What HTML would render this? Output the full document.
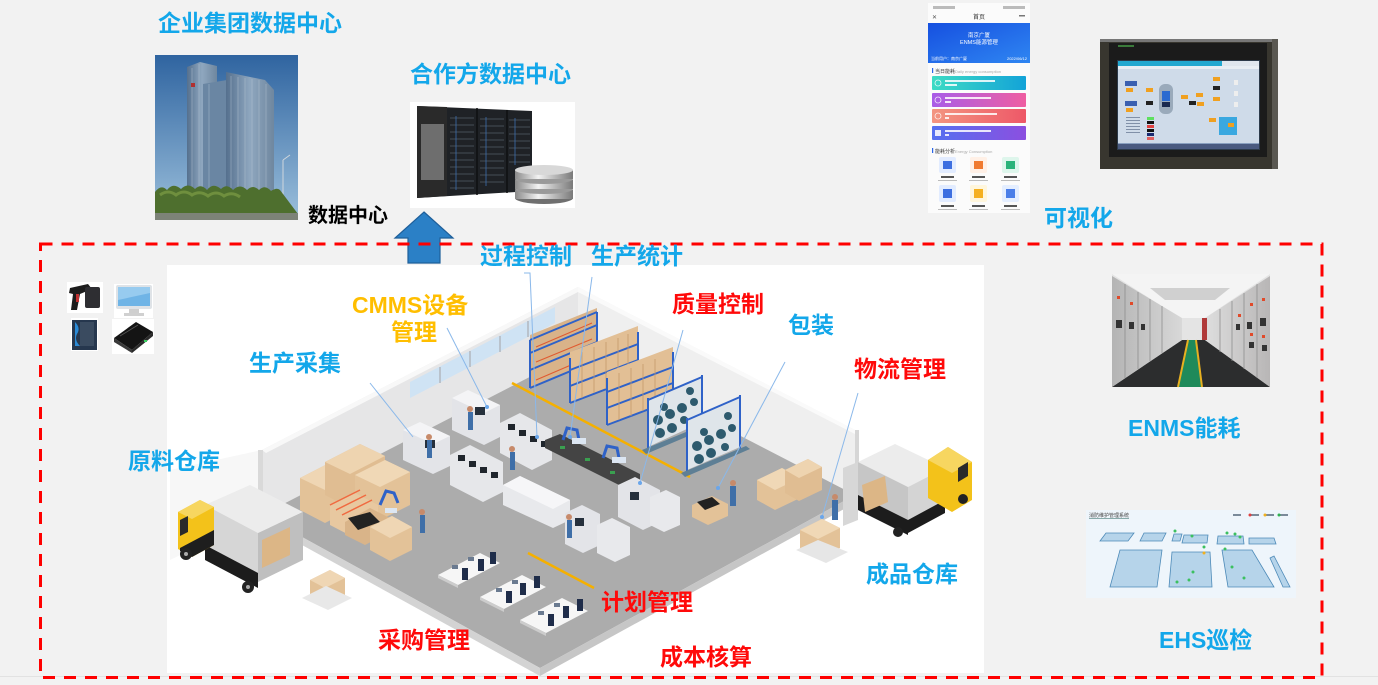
<!DOCTYPE html>
<html><head><meta charset="utf-8">
<style>
html,body{margin:0;padding:0;background:#f2f2f2;}
svg{display:block;}
.t{font-family:"Liberation Sans","Noto Sans CJK SC",sans-serif;font-weight:700;font-size:23px;}
.b{fill:#13a7ea;}
.r{fill:#ff0a0a;}
.o{fill:#ffbe00;}
.s{font-family:"Liberation Sans","Noto Sans CJK SC",sans-serif;}
</style></head>
<body>
<svg width="1378" height="685" viewBox="0 0 1378 685" xmlns="http://www.w3.org/2000/svg">
<defs>
<linearGradient id="sky" x1="0" y1="0" x2="0" y2="1"><stop offset="0" stop-color="#2f64a0"/><stop offset="1" stop-color="#9cc0dc"/></linearGradient>
<linearGradient id="tw" x1="0" y1="0" x2="1" y2="0"><stop offset="0" stop-color="#55708e"/><stop offset="0.5" stop-color="#8fa7bf"/><stop offset="1" stop-color="#6f879f"/></linearGradient>
<linearGradient id="ph" x1="0" y1="0" x2="1" y2="1"><stop offset="0" stop-color="#1650e0"/><stop offset="1" stop-color="#2f86f2"/></linearGradient>
<linearGradient id="c1" x1="0" y1="0" x2="1" y2="0"><stop offset="0" stop-color="#3ddbc4"/><stop offset="1" stop-color="#13a3d8"/></linearGradient>
<linearGradient id="c2" x1="0" y1="0" x2="1" y2="0"><stop offset="0" stop-color="#a85ce8"/><stop offset="1" stop-color="#ef5fa2"/></linearGradient>
<linearGradient id="c3" x1="0" y1="0" x2="1" y2="0"><stop offset="0" stop-color="#f39580"/><stop offset="1" stop-color="#ee5868"/></linearGradient>
<linearGradient id="c4" x1="0" y1="0" x2="1" y2="0"><stop offset="0" stop-color="#5470f0"/><stop offset="1" stop-color="#8c4fe0"/></linearGradient>
<linearGradient id="disc" x1="0" y1="0" x2="1" y2="0"><stop offset="0" stop-color="#8a8a8a"/><stop offset="0.4" stop-color="#f2f2f2"/><stop offset="1" stop-color="#7a7a7a"/></linearGradient>
<linearGradient id="sgL" x1="0" y1="0" x2="1" y2="0"><stop offset="0" stop-color="#b4b4b4"/><stop offset="1" stop-color="#d8d8d8"/></linearGradient>
<linearGradient id="sgR" x1="1" y1="0" x2="0" y2="0"><stop offset="0" stop-color="#b8b6b6"/><stop offset="1" stop-color="#dedede"/></linearGradient>
</defs>

<rect x="0" y="0" width="1378" height="685" fill="#f2f2f2"/>
<rect x="0" y="676" width="1378" height="1" fill="#e2e2e2"/>

<!-- ===== Building photo ===== -->
<rect x="155" y="55" width="143" height="165" fill="url(#sky)"/>
<polygon points="187,67 200,62 217,66 217,205 187,205" fill="url(#tw)"/>
<polygon points="203,84 227,80 227,205 203,205" fill="#6a86a3"/>
<polygon points="226,72 265,80 274,90 274,205 226,205" fill="url(#tw)"/>
<g stroke="#b9c8d6" stroke-width="0.6" opacity="0.7">
<line x1="231" y1="76" x2="231" y2="205"/><line x1="238" y1="77" x2="238" y2="205"/><line x1="245" y1="78" x2="245" y2="205"/><line x1="252" y1="79" x2="252" y2="205"/><line x1="259" y1="80" x2="259" y2="205"/><line x1="266" y1="84" x2="266" y2="205"/>
<line x1="192" y1="68" x2="192" y2="205"/><line x1="199" y1="64" x2="199" y2="205"/><line x1="209" y1="84" x2="209" y2="205"/>
</g>
<rect x="191" y="83" width="4" height="4" fill="#b03030"/>
<line x1="283" y1="160" x2="283" y2="216" stroke="#cfd6dc" stroke-width="1"/>
<line x1="283" y1="160" x2="290" y2="155" stroke="#cfd6dc" stroke-width="1"/>
<path d="M155,192 q6,-8 12,-2 q6,-8 14,-1 q7,-7 14,0 q6,-6 12,1 q6,-8 14,-1 q6,-6 12,1 q7,-7 14,0 q6,-6 12,0 q6,-6 12,1 q6,-4 9,-1 L298,214 L155,214 Z" fill="#4e6f2e"/>
<path d="M160,195 q8,-6 16,0 q8,-6 16,0 q8,-5 16,1 q8,-6 16,0 q8,-5 16,1" fill="none" stroke="#6f8f3e" stroke-width="3"/>
<rect x="155" y="213" width="143" height="7" fill="#7d8378"/>

<!-- ===== Server photo ===== -->
<rect x="410" y="102" width="165" height="106" fill="#ffffff"/>
<polygon points="417,106 532,111 532,191 417,198" fill="#1f2226"/>
<polygon points="417,106 447,107 447,196 417,198" fill="#2a2a2a"/>
<rect x="421" y="124" width="23" height="56" fill="#6e6e6e"/>
<g stroke="#555c66" stroke-width="0.8">
<line x1="450" y1="118" x2="474" y2="118"/><line x1="450" y1="125" x2="474" y2="125"/><line x1="450" y1="132" x2="474" y2="132"/><line x1="450" y1="139" x2="474" y2="139"/><line x1="450" y1="146" x2="474" y2="146"/><line x1="450" y1="153" x2="474" y2="153"/><line x1="450" y1="160" x2="474" y2="160"/><line x1="450" y1="167" x2="474" y2="167"/><line x1="450" y1="174" x2="474" y2="174"/><line x1="450" y1="181" x2="474" y2="181"/><line x1="450" y1="188" x2="474" y2="188"/>
<line x1="480" y1="119" x2="504" y2="119"/><line x1="480" y1="126" x2="504" y2="126"/><line x1="480" y1="133" x2="504" y2="133"/><line x1="480" y1="140" x2="504" y2="140"/><line x1="480" y1="147" x2="504" y2="147"/><line x1="480" y1="154" x2="504" y2="154"/><line x1="480" y1="161" x2="504" y2="161"/><line x1="480" y1="168" x2="504" y2="168"/><line x1="480" y1="175" x2="504" y2="175"/><line x1="480" y1="182" x2="504" y2="182"/>
<line x1="509" y1="120" x2="530" y2="120"/><line x1="509" y1="127" x2="530" y2="127"/><line x1="509" y1="134" x2="530" y2="134"/><line x1="509" y1="141" x2="530" y2="141"/><line x1="509" y1="148" x2="530" y2="148"/><line x1="509" y1="155" x2="530" y2="155"/><line x1="509" y1="162" x2="530" y2="162"/>
</g>
<g stroke="#3a6fb0" stroke-width="0.8"><line x1="456" y1="116" x2="456" y2="190"/><line x1="486" y1="117" x2="486" y2="186"/><line x1="515" y1="118" x2="515" y2="165"/></g>
<line x1="477" y1="108" x2="477" y2="195" stroke="#0e0f11" stroke-width="1.5"/>
<line x1="507" y1="110" x2="507" y2="193" stroke="#0e0f11" stroke-width="1.5"/>
<ellipse cx="544" cy="198" rx="29" ry="6" fill="#6f6f6f"/>
<rect x="515" y="190" width="58" height="9" fill="url(#disc)"/>
<ellipse cx="544" cy="189" rx="29" ry="5" fill="#9a9a9a"/>
<rect x="515" y="180" width="58" height="9" fill="url(#disc)"/>
<ellipse cx="544" cy="179" rx="29" ry="5" fill="#9a9a9a"/>
<rect x="515" y="170" width="58" height="9" fill="url(#disc)"/>
<ellipse cx="544" cy="170" rx="29" ry="5" fill="#d8d8d8"/>

<!-- arrow -->
<polygon points="424,212 453,238 440,238 440,263 408,263 408,238 395,238" fill="#2b80c6" stroke="#1e5f9a" stroke-width="1.2"/>

<!-- ===== Phone screenshot ===== -->
<rect x="928" y="3" width="102" height="210" fill="#fbfbfb"/>
<rect x="933" y="6" width="22" height="3" fill="#bbb"/><rect x="1003" y="6" width="22" height="3" fill="#bbb"/>
<text x="979" y="19" class="s" font-size="6" fill="#333" text-anchor="middle">首页</text>
<text x="932" y="19" class="s" font-size="6" fill="#555">✕</text>
<rect x="1019" y="15" width="6" height="1.5" fill="#777"/>
<rect x="928" y="23" width="102" height="40" fill="url(#ph)"/>
<text x="979" y="37" class="s" font-size="5.5" fill="#fff" text-anchor="middle">南京广厦</text>
<text x="979" y="44" class="s" font-size="5.5" fill="#fff" text-anchor="middle">ENMS能源管理</text>
<text x="931" y="60" class="s" font-size="4" fill="#fff">当前用户：南京广厦</text>
<text x="1027" y="60" class="s" font-size="4" fill="#fff" text-anchor="end">2022/06/12</text>
<rect x="932" y="68" width="1.2" height="5" fill="#2b66e8"/>
<text x="935" y="73" class="s" font-size="5" fill="#333">当日能耗</text>
<text x="955" y="73" class="s" font-size="4" fill="#aaa">Daily energy consumption</text>
<rect x="932" y="76" width="94" height="14" rx="1" fill="url(#c1)"/>
<rect x="932" y="93" width="94" height="14" rx="1" fill="url(#c2)"/>
<rect x="932" y="109" width="94" height="14" rx="1" fill="url(#c3)"/>
<rect x="932" y="126" width="94" height="14" rx="1" fill="url(#c4)"/>
<g fill="#fff" opacity="0.85">
<circle cx="938" cy="83" r="3" fill="none" stroke="#fff" stroke-width="0.8"/><rect x="945" y="80" width="50" height="2"/><rect x="945" y="84" width="12" height="2"/>
<circle cx="938" cy="100" r="3" fill="none" stroke="#fff" stroke-width="0.8"/><rect x="945" y="97" width="46" height="2"/><rect x="945" y="101" width="6" height="2"/>
<circle cx="938" cy="116" r="3" fill="none" stroke="#fff" stroke-width="0.8"/><rect x="945" y="113" width="52" height="2"/><rect x="945" y="117" width="4" height="2"/>
<rect x="935" y="130" width="6" height="6"/><rect x="945" y="130" width="46" height="2"/><rect x="945" y="134" width="4" height="2"/>
</g>
<rect x="932" y="148" width="1.2" height="5" fill="#2b66e8"/>
<text x="935" y="153" class="s" font-size="5" fill="#333">能耗分析</text>
<text x="955" y="153" class="s" font-size="4" fill="#aaa">Energy Consumption</text>
<rect x="939" y="157" width="17" height="16" rx="2" fill="#e2ecff"/><rect x="943" y="161" width="9" height="8" fill="#3d6fe0"/>
<rect x="970" y="157" width="17" height="16" rx="2" fill="#fff0e6"/><rect x="974" y="161" width="9" height="8" fill="#f07a30"/>
<rect x="1002" y="157" width="17" height="16" rx="2" fill="#def6ec"/><rect x="1006" y="161" width="9" height="8" fill="#2ab37a"/>
<g fill="#555"><rect x="941" y="176" width="13" height="2"/><rect x="972" y="176" width="13" height="2"/><rect x="1004" y="176" width="13" height="2"/></g>
<g fill="#bbb"><rect x="938" y="180" width="19" height="1"/><rect x="969" y="180" width="19" height="1"/><rect x="1001" y="180" width="19" height="1"/></g>
<rect x="939" y="185" width="17" height="17" rx="2" fill="#e2ecff"/><rect x="943" y="189" width="9" height="9" fill="#3d6fe0"/>
<rect x="970" y="185" width="17" height="17" rx="2" fill="#fff6dc"/><rect x="974" y="189" width="9" height="9" fill="#f5b020"/>
<rect x="1002" y="185" width="17" height="17" rx="2" fill="#e4eeff"/><rect x="1006" y="189" width="9" height="9" fill="#4a7ee8"/>
<g fill="#555"><rect x="941" y="205" width="13" height="2"/><rect x="972" y="205" width="13" height="2"/><rect x="1004" y="205" width="13" height="2"/></g>
<g fill="#bbb"><rect x="938" y="209" width="19" height="1"/><rect x="969" y="209" width="19" height="1"/><rect x="1001" y="209" width="19" height="1"/></g>

<!-- ===== HMI monitor photo ===== -->
<rect x="1100" y="39" width="178" height="130" fill="#38362f"/>
<rect x="1100" y="39" width="178" height="3" fill="#777"/>
<rect x="1272" y="39" width="6" height="130" fill="#5a5852"/>
<rect x="1109" y="43" width="158" height="114" fill="#1b1b1b"/>
<rect x="1117" y="60" width="143" height="90" fill="#2c3a4a"/>
<rect x="1118" y="61" width="141" height="88" fill="#cfdbe9"/>
<rect x="1118" y="61" width="104" height="5" fill="#22a8d0"/>
<rect x="1222" y="61" width="37" height="5" fill="#dfe6ee"/>
<rect x="1118" y="66" width="141" height="3" fill="#e8eef4"/>
<rect x="1118" y="143" width="141" height="6" fill="#4a5a80"/>
<rect x="1118" y="143" width="141" height="1" fill="#8aa0c0"/>
<g>
<rect x="1125" y="81" width="12" height="5" fill="#3a5fb0"/><rect x="1126" y="88" width="7" height="4" fill="#f0a020"/>
<rect x="1125" y="101" width="12" height="5" fill="#3a5fb0"/><rect x="1126" y="108" width="7" height="4" fill="#f0a020"/>
<rect x="1146" y="88" width="7" height="4" fill="#f0a020"/><rect x="1146" y="101" width="7" height="4" fill="#222"/>
<rect x="1159" y="84" width="14" height="30" rx="6" fill="#9aaabb"/><rect x="1162" y="91" width="8" height="10" fill="#2a6ad0"/><rect x="1162" y="102" width="8" height="5" fill="#1a2a50"/>
<rect x="1181" y="95" width="7" height="4" fill="#f0a020"/><rect x="1189" y="101" width="7" height="4" fill="#222"/><rect x="1196" y="93" width="7" height="4" fill="#f0a020"/><rect x="1197" y="102" width="7" height="4" fill="#f0a020"/>
<rect x="1213" y="77" width="7" height="4" fill="#f0a020"/><rect x="1213" y="86" width="7" height="4" fill="#222"/><rect x="1213" y="97" width="7" height="4" fill="#f0a020"/>
<rect x="1234" y="80" width="4" height="5" fill="#eee"/><rect x="1234" y="91" width="4" height="5" fill="#eee"/><rect x="1234" y="102" width="4" height="5" fill="#eee"/>
<rect x="1147" y="117" width="7" height="3" fill="#5ee060"/><rect x="1147" y="121" width="7" height="3" fill="#111"/><rect x="1147" y="125" width="7" height="3" fill="#e04040"/><rect x="1147" y="129" width="7" height="3" fill="#111"/><rect x="1147" y="133" width="7" height="3" fill="#1a2a70"/><rect x="1147" y="137" width="7" height="3" fill="#e06060"/>
<rect x="1219" y="117" width="18" height="18" fill="#3aa8e0"/><rect x="1228" y="123" width="6" height="4" fill="#f0a020"/>
<rect x="1209" y="118" width="7" height="4" fill="#f0a020"/>
<g fill="#8090a8"><rect x="1126" y="117" width="14" height="1"/><rect x="1126" y="120" width="14" height="1"/><rect x="1126" y="123" width="14" height="1"/><rect x="1126" y="126" width="14" height="1"/><rect x="1126" y="129" width="14" height="1"/><rect x="1126" y="132" width="14" height="1"/></g>
</g>
<rect x="1118" y="45" width="16" height="2" fill="#3a7a3a"/>

<!-- ===== Red dashed frame ===== -->
<rect x="40.5" y="244" width="1281.5" height="433.5" fill="none" stroke="#ff0000" stroke-width="3" stroke-dasharray="12 9"/>

<!-- ===== Small device icons ===== -->
<rect x="67" y="282" width="36" height="31" fill="#fff"/>
<polygon points="70,288 88,284 92,289 80,294 77,310 71,310 73,294 69,293" fill="#1d1d1d"/>
<rect x="85" y="287" width="15" height="21" rx="2" fill="#2e2e32"/>
<rect x="76" y="294" width="3" height="8" fill="#c03030"/>
<rect x="114" y="284" width="39" height="34" fill="#fff"/>
<rect x="116" y="285" width="36" height="24" rx="2" fill="#dfe3e7"/>
<rect x="118" y="287" width="32" height="19" fill="#6fb4e6"/>
<polygon points="118,287 150,287 150,293 118,300" fill="#a8d4f2" opacity="0.7"/>
<rect x="129" y="309" width="10" height="4" fill="#cfcfcf"/><rect x="124" y="313" width="20" height="3" fill="#d0d0d0"/>
<rect x="71" y="318" width="27" height="33" fill="#fff"/>
<rect x="72" y="320" width="25" height="30" fill="#26374e"/>
<path d="M75,322 q6,6 2,12 q-3,6 3,12 l-5,0 Z" fill="#2a8ad6"/>
<rect x="80" y="322" width="14" height="24" fill="#3a4b60"/>
<rect x="112" y="319" width="42" height="35" fill="#fff"/>
<polygon points="114,338 136,322 153,332 132,350" fill="#141414"/>
<polygon points="114,338 132,350 132,353 114,342" fill="#3a3a3a"/>
<polygon points="132,350 153,332 153,336 132,353" fill="#2a2a2a"/>
<line x1="120" y1="336" x2="138" y2="325" stroke="#555" stroke-width="0.8"/>
<rect x="144" y="340" width="3" height="2" fill="#3ad060"/>

<!-- ===== Factory illustration ===== -->
<rect x="167" y="265" width="817" height="408" fill="#ffffff"/>
<!-- outer ground hints -->
<polygon points="170,470 262,450 262,515 170,560" fill="#f7f7f7"/>
<!-- walls -->
<polygon points="262,450 578,287 578,352 262,515" fill="#e6e6e7"/>
<polygon points="262,450 578,287 578,292 266,453" fill="#f8f8f8"/>
<polygon points="578,287 855,430 855,495 578,352" fill="#efefef"/>
<polygon points="578,287 855,430 855,434 578,292" fill="#fafafa"/>
<rect x="855" y="430" width="4" height="67" fill="#d6d6d6"/>
<rect x="258" y="450" width="5" height="66" fill="#d9d9d9"/>
<!-- windows -->
<polygon points="410,382 555,307 555,323 410,398" fill="#cfe3f4"/>
<g stroke="#b9c2cc" stroke-width="2"><line x1="440" y1="367" x2="440" y2="383"/><line x1="470" y1="351" x2="470" y2="367"/><line x1="500" y1="336" x2="500" y2="352"/><line x1="528" y1="321" x2="528" y2="337"/></g>
<!-- floor -->
<polygon points="262,515 578,352 855,495 540,668" fill="#acacac"/>
<polygon points="262,515 540,668 540,676 262,523" fill="#d3d3d3"/>
<polygon points="540,668 855,495 855,503 540,676" fill="#c6c6c6"/>
<!-- yellow lines -->
<line x1="512" y1="383" x2="690" y2="477" stroke="#f5b000" stroke-width="2.5"/>
<line x1="528" y1="553" x2="594" y2="588" stroke="#f5b000" stroke-width="2.5"/>

<!-- racks with boxes -->
<g>
<polygon points="530,335 597,308 597,360 530,388" fill="#d9b389"/>
<g stroke="#2f62c8" stroke-width="2" fill="none">
<line x1="530" y1="340" x2="530" y2="388"/><line x1="597" y1="312" x2="597" y2="360"/>
<line x1="530" y1="388" x2="597" y2="360"/><line x1="530" y1="370" x2="597" y2="342"/><line x1="530" y1="353" x2="597" y2="325"/><line x1="530" y1="340" x2="597" y2="312"/>
</g>
<g stroke="#e05a30" stroke-width="1"><line x1="536" y1="362" x2="592" y2="339"/><line x1="536" y1="347" x2="592" y2="323"/><line x1="536" y1="380" x2="592" y2="356"/></g>
</g>
<g>
<polygon points="570,352 638,326 638,377 570,403" fill="#e2bf95"/>
<g stroke="#2f62c8" stroke-width="2" fill="none">
<line x1="570" y1="358" x2="570" y2="403"/><line x1="638" y1="332" x2="638" y2="377"/>
<line x1="570" y1="403" x2="638" y2="377"/><line x1="570" y1="386" x2="638" y2="360"/><line x1="570" y1="370" x2="638" y2="344"/>
</g>
<g stroke="#c49a6c" stroke-width="0.8"><line x1="582" y1="352" x2="582" y2="398"/><line x1="594" y1="347" x2="594" y2="393"/><line x1="606" y1="342" x2="606" y2="389"/><line x1="618" y1="338" x2="618" y2="384"/><line x1="628" y1="334" x2="628" y2="380"/></g>
</g>
<g>
<polygon points="607,372 673,347 673,400 607,425" fill="#e2bf95"/>
<g stroke="#2f62c8" stroke-width="2" fill="none">
<line x1="607" y1="378" x2="607" y2="425"/><line x1="673" y1="352" x2="673" y2="400"/>
<line x1="607" y1="425" x2="673" y2="400"/><line x1="607" y1="408" x2="673" y2="383"/><line x1="607" y1="392" x2="673" y2="367"/>
</g>
<g stroke="#c49a6c" stroke-width="0.8"><line x1="619" y1="373" x2="619" y2="420"/><line x1="631" y1="368" x2="631" y2="416"/><line x1="643" y1="364" x2="643" y2="411"/><line x1="655" y1="359" x2="655" y2="407"/></g>
</g>
<!-- reel racks -->
<g>
<polygon points="648,400 702,377 702,422 648,447" fill="#dfe5ea"/>
<g fill="#2d5a6e"><circle cx="658" cy="420" r="5"/><circle cx="670" cy="414" r="5"/><circle cx="682" cy="408" r="5"/><circle cx="694" cy="402" r="4"/><circle cx="660" cy="433" r="5"/><circle cx="672" cy="428" r="5"/><circle cx="684" cy="420" r="4"/><circle cx="664" cy="407" r="4"/><circle cx="690" cy="391" r="4"/></g>
<g stroke="#2f62c8" stroke-width="2"><line x1="648" y1="398" x2="648" y2="450"/><line x1="702" y1="375" x2="702" y2="424"/><line x1="648" y1="400" x2="702" y2="377"/></g>
<polygon points="642,450 708,423 712,426 646,454" fill="#5e7f95"/>
</g>
<g>
<polygon points="687,420 740,397 740,447 687,470" fill="#dfe5ea"/>
<g fill="#2d5a6e"><circle cx="697" cy="446" r="5"/><circle cx="709" cy="440" r="5"/><circle cx="721" cy="434" r="5"/><circle cx="732" cy="428" r="4"/><circle cx="699" cy="459" r="5"/><circle cx="711" cy="453" r="5"/><circle cx="725" cy="447" r="4"/><circle cx="704" cy="432" r="4"/><circle cx="728" cy="416" r="4"/></g>
<g stroke="#2f62c8" stroke-width="2"><line x1="687" y1="418" x2="687" y2="472"/><line x1="740" y1="395" x2="740" y2="449"/><line x1="687" y1="420" x2="740" y2="397"/></g>
<polygon points="681,473 746,446 750,449 685,477" fill="#5e7f95"/>
</g>

<!-- machines -->
<g>
<polygon points="403,430 420,422 450,436 450,466 433,474 403,460" fill="#e3e4e8"/>
<polygon points="403,430 420,422 450,436 433,444" fill="#f4f4f6"/>
<rect x="425" y="440" width="10" height="8" fill="#26303c"/>
<polygon points="452,398 468,390 500,405 500,437 484,445 452,430" fill="#e3e4e8"/>
<polygon points="452,398 468,390 500,405 484,413" fill="#f4f4f6"/>
<rect x="475" y="407" width="10" height="8" fill="#26303c"/>
<polygon points="450,455 470,445 503,462 503,492 483,502 450,485" fill="#e6e7ea"/>
<g fill="#1f252c"><rect x="458" y="455" width="7" height="6"/><rect x="469" y="461" width="7" height="6"/><rect x="480" y="467" width="7" height="6"/><rect x="491" y="472" width="7" height="6"/></g>
<polygon points="500,423 520,413 552,430 552,460 532,470 500,453" fill="#e6e7ea"/>
<g fill="#1f252c"><rect x="508" y="424" width="7" height="6"/><rect x="519" y="430" width="7" height="6"/><rect x="530" y="436" width="7" height="6"/><rect x="541" y="441" width="7" height="6"/></g>
<polygon points="503,485 520,476 570,500 570,520 553,528 503,505" fill="#e8e9ec"/>
<polygon points="503,485 520,476 570,500 553,509" fill="#f6f6f8"/>
<polygon points="545,440 560,434 640,474 640,482 625,488 545,448" fill="#444"/>
<g fill="#3aa050"><rect x="560" y="446" width="5" height="3"/><rect x="585" y="458" width="5" height="3"/><rect x="610" y="471" width="5" height="3"/></g>
<g stroke="#2f62c8" stroke-width="3" fill="none"><path d="M563,440 l4,-12 l10,2 l2,10"/><path d="M603,458 l4,-12 l10,2 l2,10"/></g>
<rect x="572" y="438" width="14" height="6" fill="#dce6f2"/><rect x="612" y="457" width="14" height="6" fill="#dce6f2"/>
<polygon points="618,485 635,477 660,490 660,522 643,530 618,517" fill="#e3e4e8"/>
<rect x="630" y="492" width="9" height="8" fill="#26303c"/>
<polygon points="650,497 666,490 680,497 680,525 664,532 650,525" fill="#e8e9ec"/>
<polygon points="565,513 582,505 600,514 600,545 583,553 565,544" fill="#e3e4e8"/>
<rect x="575" y="518" width="9" height="8" fill="#26303c"/>
<polygon points="597,525 612,518 630,527 630,555 615,562 597,553" fill="#e8e9ec"/>
</g>

<!-- boxes left -->
<g>
<polygon points="300,478 335,460 360,472 360,505 325,523 300,510" fill="#e3c298"/>
<polygon points="300,478 335,460 360,472 325,490" fill="#efd6b4"/>
<polygon points="325,462 360,444 385,456 385,490 350,508 325,495" fill="#e0bd92"/>
<polygon points="325,462 360,444 385,456 350,474" fill="#eed4b0"/>
<polygon points="355,475 385,460 410,472 410,505 380,520 355,508" fill="#e3c298"/>
<polygon points="355,475 385,460 410,472 380,487" fill="#f0d8b6"/>
<polygon points="330,505 355,493 378,505 378,525 353,537 330,525" fill="#e8c8a0"/>
<g stroke="#f06a40" stroke-width="1.5"><line x1="330" y1="505" x2="360" y2="490"/><line x1="336" y1="510" x2="366" y2="495"/><line x1="342" y1="515" x2="372" y2="500"/></g>
<polygon points="345,522 370,508 390,518 390,532 365,545 345,535" fill="#d9b489"/>
<polygon points="348,518 370,512 380,522 358,530" fill="#222"/>
<polygon points="370,527 392,516 412,527 412,550 390,561 370,550" fill="#e3c298"/>
<polygon points="370,527 392,516 412,527 390,538" fill="#efd6b4"/>
<path d="M380,505 l6,-14 l8,2 l4,10" stroke="#2f62c8" stroke-width="3" fill="none"/>
<rect x="385" y="508" width="12" height="5" fill="#dce6f2"/>
</g>
<!-- workers -->
<g fill="#3f6fa8">
<rect x="420" y="515" width="5" height="18"/><circle cx="422" cy="512" r="3" fill="#c78a6a"/>
<rect x="427" y="440" width="5" height="18"/><circle cx="429" cy="437" r="3" fill="#c78a6a"/>
<rect x="468" y="412" width="5" height="18"/><circle cx="470" cy="409" r="3" fill="#c78a6a"/>
<rect x="510" y="452" width="5" height="18"/><circle cx="512" cy="449" r="3" fill="#c78a6a"/>
<rect x="567" y="520" width="5" height="18"/><circle cx="569" cy="517" r="3" fill="#c78a6a"/>
<rect x="730" y="486" width="6" height="20"/><circle cx="733" cy="483" r="3" fill="#c78a6a"/>
<rect x="832" y="500" width="6" height="20"/><circle cx="835" cy="497" r="3" fill="#c78a6a"/>
</g>
<!-- desks -->
<g>
<polygon points="438,575 480,553 500,563 458,585" fill="#f6f6f6"/>
<polygon points="438,575 458,585 458,588 438,578" fill="#ccc"/>
<polygon points="480,597 522,575 546,587 504,609" fill="#f6f6f6"/>
<polygon points="480,597 504,609 504,612 480,600" fill="#ccc"/>
<polygon points="520,620 562,598 588,611 546,633" fill="#f6f6f6"/>
<polygon points="520,620 546,633 546,636 520,623" fill="#ccc"/>
<g fill="#1f2d4a">
<rect x="462" y="568" width="6" height="12"/><rect x="478" y="559" width="6" height="12"/><rect x="490" y="552" width="6" height="12"/>
<rect x="506" y="591" width="6" height="12"/><rect x="520" y="583" width="6" height="12"/><rect x="534" y="576" width="6" height="12"/>
<rect x="548" y="614" width="6" height="12"/><rect x="563" y="606" width="6" height="12"/><rect x="577" y="599" width="6" height="12"/>
</g>
<g fill="#6a7a90"><rect x="452" y="565" width="6" height="4"/><rect x="468" y="557" width="6" height="4"/><rect x="496" y="588" width="6" height="4"/><rect x="512" y="580" width="6" height="4"/><rect x="538" y="611" width="6" height="4"/><rect x="554" y="603" width="6" height="4"/></g>
</g>
<!-- right boxes -->
<g>
<polygon points="757,480 782,468 800,478 800,498 775,510 757,500" fill="#e3c298"/>
<polygon points="757,480 782,468 800,478 775,490" fill="#f0d8b6"/>
<polygon points="785,470 808,459 822,467 822,490 799,501 785,493" fill="#e0bd92"/>
<polygon points="785,470 808,459 822,467 799,478" fill="#eed4b0"/>
<polygon points="692,505 712,496 728,504 728,516 708,525 692,517" fill="#e3c298"/>
<polygon points="697,502 712,497 720,504 705,510" fill="#222"/>
<polygon points="800,530 822,519 840,528 840,548 818,559 800,550" fill="#e3c298"/>
<polygon points="800,530 822,519 840,528 818,539" fill="#f0d8b6"/>
<polygon points="796,550 818,540 848,552 826,563" fill="#e6e6e6"/>
</g>
<!-- left truck -->
<g>
<polygon points="205,505 250,485 303,512 258,533" fill="#ececec"/>
<polygon points="205,505 258,533 258,585 205,555" fill="#d6d6d6"/>
<polygon points="205,545 258,573 258,588 205,560" fill="#1c1c1c"/>
<polygon points="258,533 303,512 303,560 258,582" fill="#bfbfbf"/>
<polygon points="262,540 290,527 290,555 262,568" fill="#dcb686"/>
<polygon points="178,512 200,500 214,507 214,545 192,557 178,549" fill="#f3c21a"/>
<polygon points="178,512 200,500 214,507 192,519" fill="#f7d660"/>
<polygon points="180,520 188,516 188,532 180,536" fill="#2a2a2a"/>
<polygon points="180,548 214,530 214,545 192,557 180,551" fill="#1e1e1e"/>
<ellipse cx="186" cy="554" rx="6" ry="6" fill="#222"/><circle cx="186" cy="554" r="2" fill="#aaa"/>
<ellipse cx="248" cy="587" rx="6" ry="6" fill="#222"/><circle cx="248" cy="587" r="2" fill="#aaa"/>
<polygon points="310,580 330,570 345,578 345,595 325,605 310,597" fill="#e3c298"/>
<polygon points="310,580 330,570 345,578 325,588" fill="#efd6b4"/>
<polygon points="302,598 326,586 352,598 328,610" fill="#e8e8e8"/>
</g>
<!-- right truck -->
<g>
<polygon points="858,462 895,444 945,468 908,487" fill="#ececec"/>
<polygon points="908,487 945,468 945,510 908,530" fill="#d4d4d4"/>
<polygon points="858,462 908,487 908,530 858,505" fill="#c6c6c6"/>
<polygon points="858,495 908,520 908,535 858,510" fill="#1c1c1c"/>
<polygon points="908,520 945,500 945,513 908,533" fill="#1c1c1c"/>
<polygon points="843,468 858,462 858,520 843,526" fill="#d7d7d7"/>
<polygon points="862,485 885,476 888,502 865,512" fill="#dcb686"/>
<polygon points="928,460 948,447 972,462 972,500 952,512 928,498" fill="#f3c21a"/>
<polygon points="928,460 948,447 972,462 952,473" fill="#f7d660"/>
<polygon points="958,468 968,462 968,476 958,482" fill="#2a2a2a"/>
<circle cx="898" cy="532" r="5" fill="#222"/><circle cx="963" cy="499" r="5" fill="#222"/>
</g>

<!-- pointer lines -->
<g stroke="#8ab8ea" stroke-width="1" fill="none">
<line x1="370" y1="383" x2="413" y2="437"/>
<line x1="447" y1="328" x2="487" y2="407"/>
<polyline points="524,273 530,273 537,437"/>
<line x1="592" y1="277" x2="570" y2="437"/>
<line x1="683" y1="330" x2="640" y2="483"/>
<line x1="785" y1="362" x2="718" y2="488"/>
<line x1="858" y1="393" x2="822" y2="517"/>
</g>
<g fill="#6aa6ea"><circle cx="487" cy="407" r="2"/><circle cx="537" cy="437" r="2"/><circle cx="570" cy="437" r="2"/><circle cx="640" cy="483" r="2"/><circle cx="718" cy="488" r="2"/><circle cx="822" cy="517" r="2"/></g>

<!-- ===== Switchgear photo ===== -->
<rect x="1112" y="274" width="158" height="113" fill="#e4e4e4"/>
<polygon points="1112,274 1270,274 1205,318 1180,318" fill="#f4f4f4"/>
<polygon points="1150,288 1230,288 1215,300 1165,300" fill="#d0d0d0"/>
<polygon points="1112,387 1270,387 1205,340 1182,340" fill="#2c2d2e"/>
<polygon points="1178,387 1202,387 1196,340 1188,340" fill="#1f8a5a"/>
<line x1="1178" y1="387" x2="1188" y2="340" stroke="#e8b020" stroke-width="2"/>
<line x1="1202" y1="387" x2="1196" y2="340" stroke="#e8b020" stroke-width="2"/>
<polygon points="1112,276 1182,318 1182,340 1112,387" fill="url(#sgL)"/>
<polygon points="1270,276 1205,318 1205,340 1270,387" fill="url(#sgR)"/>
<g stroke="#8e8e8e" stroke-width="0.8"><line x1="1125" y1="284" x2="1125" y2="378"/><line x1="1138" y1="292" x2="1138" y2="369"/><line x1="1150" y1="299" x2="1150" y2="361"/><line x1="1162" y1="306" x2="1162" y2="353"/><line x1="1257" y1="284" x2="1257" y2="378"/><line x1="1244" y1="293" x2="1244" y2="369"/><line x1="1232" y1="301" x2="1232" y2="361"/><line x1="1220" y1="309" x2="1220" y2="352"/></g>
<g fill="#333"><rect x="1116" y="320" width="6" height="8"/><rect x="1129" y="322" width="5" height="7"/><rect x="1141" y="324" width="4" height="6"/><rect x="1260" y="318" width="6" height="8"/><rect x="1247" y="322" width="5" height="7"/><rect x="1236" y="324" width="4" height="6"/><rect x="1262" y="345" width="5" height="6"/><rect x="1249" y="342" width="5" height="6"/></g>
<g fill="#e04a2a"><rect x="1117" y="296" width="3" height="3"/><rect x="1130" y="302" width="3" height="3"/><rect x="1262" y="298" width="3" height="3"/><rect x="1250" y="303" width="3" height="3"/><rect x="1262" y="335" width="3" height="3"/><rect x="1250" y="333" width="3" height="3"/><rect x="1238" y="314" width="3" height="3"/></g>
<rect x="1202" y="318" width="5" height="22" fill="#b03a3a"/>

<!-- ===== EHS map ===== -->
<rect x="1086" y="510" width="210" height="88" fill="#eef5fb"/>
<text x="1089" y="517" class="s" font-size="5" fill="#444">消防维护管理系统</text>
<rect x="1089" y="518" width="40" height="1" fill="#8aa"/>
<g fill="#7a8a9a"><rect x="1233" y="514" width="8" height="2"/><rect x="1251" y="514" width="8" height="2"/><rect x="1266" y="514" width="8" height="2"/><rect x="1280" y="514" width="8" height="2"/></g>
<circle cx="1250" cy="515" r="1.5" fill="#e04040"/><circle cx="1265" cy="515" r="1.5" fill="#f0b020"/><circle cx="1279" cy="515" r="1.5" fill="#30b050"/>
<g fill="#b6d4ea" stroke="#4d8ab8" stroke-width="0.8">
<polygon points="1100,541 1106,533 1134,533 1128,541"/>
<polygon points="1140,541 1144,533 1166,533 1162,541"/>
<polygon points="1172,541 1174,534 1182,534 1180,541"/>
<polygon points="1182,543 1184,535 1208,535 1207,543"/>
<polygon points="1217,544 1218,536 1243,536 1244,544"/>
<polygon points="1249,544 1249,538 1274,538 1276,544"/>
<polygon points="1110,587 1120,550 1162,550 1157,587"/>
<polygon points="1169,587 1172,552 1210,552 1212,587"/>
<polygon points="1228,587 1222,550 1252,550 1274,587"/>
<polygon points="1283,587 1270,558 1274,556 1290,587"/>
</g>
<g fill="#3cc060"><circle cx="1175" cy="531" r="1.5"/><circle cx="1192" cy="536" r="1.5"/><circle cx="1204" cy="547" r="1.5"/><circle cx="1227" cy="533" r="1.5"/><circle cx="1235" cy="534" r="1.5"/><circle cx="1240" cy="537" r="1.5"/><circle cx="1225" cy="549" r="1.5"/><circle cx="1193" cy="572" r="1.5"/><circle cx="1189" cy="580" r="1.5"/><circle cx="1177" cy="582" r="1.5"/><circle cx="1232" cy="567" r="1.5"/><circle cx="1244" cy="578" r="1.5"/></g>
<circle cx="1204" cy="553" r="1.5" fill="#f0b020"/>

<!-- ===== Labels ===== -->
<text x="158" y="31" class="t b">企业集团数据中心</text>
<text x="410" y="82" class="t b">合作方数据中心</text>
<text x="308" y="222" class="s" font-size="20" font-weight="700" fill="#000">数据中心</text>
<text x="1044" y="226" class="t b">可视化</text>
<text x="480" y="264" class="t b">过程控制</text>
<text x="591" y="264" class="t b">生产统计</text>
<text x="352" y="313" class="t o">CMMS设备</text>
<text x="391" y="340" class="t o">管理</text>
<text x="672" y="312" class="t r">质量控制</text>
<text x="788" y="333" class="t b">包装</text>
<text x="249" y="371" class="t b">生产采集</text>
<text x="854" y="377" class="t r">物流管理</text>
<text x="128" y="469" class="t b">原料仓库</text>
<text x="1128" y="436" class="t b">ENMS能耗</text>
<text x="866" y="582" class="t b">成品仓库</text>
<text x="601" y="610" class="t r">计划管理</text>
<text x="378" y="648" class="t r">采购管理</text>
<text x="660" y="665" class="t r">成本核算</text>
<text x="1159" y="648" class="t b">EHS巡检</text>
</svg>
</body></html>
